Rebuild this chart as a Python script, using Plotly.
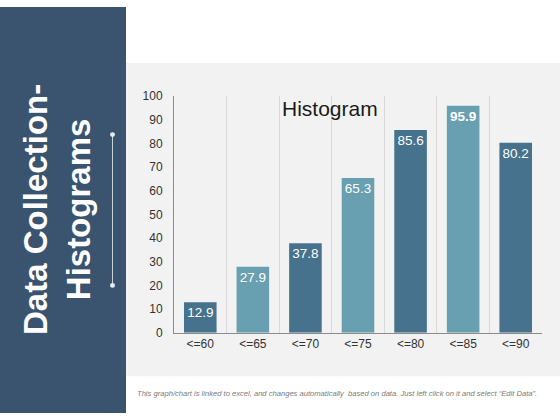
import plotly.graph_objects as go

categories = ["<=60", "<=65", "<=70", "<=75", "<=80", "<=85", "<=90"]
values = [12.9, 27.9, 37.8, 65.3, 85.6, 95.9, 80.2]
bar_colors = ["#46728d", "#68a0b1", "#46728d", "#68a0b1", "#46728d", "#68a0b1", "#46728d"]
highlight_index = 5
y_ticks = list(range(0, 101, 10))

W, H = 560, 420
def px(x):
    return x / W
def py(y):
    return 1 - y / H

labels = [f"<b>{v}</b>" if i == highlight_index else f"{v}" for i, v in enumerate(values)]

fig = go.Figure()
fig.add_trace(go.Bar(
    x=categories, y=values,
    marker=dict(color=bar_colors, line=dict(width=0)),
    text=labels, textposition="inside", insidetextanchor="end",
    textangle=0, constraintext="none", cliponaxis=False,
    textfont=dict(color="white", size=13.5, family="Liberation Sans, Arial, sans-serif"),
    hoverinfo="skip",
))

shapes = [
    dict(type="rect", xref="paper", yref="paper", x0=0, x1=px(126), y0=0, y1=1,
         fillcolor="#3a5470", line=dict(width=0), layer="below"),
    dict(type="rect", xref="paper", yref="paper", x0=px(126), x1=1, y0=py(382), y1=py(58),
         fillcolor="#f2f2f2", line=dict(width=0), layer="below"),
    dict(type="line", xref="paper", yref="paper", x0=px(112.5), x1=px(112.5), y0=py(132), y1=py(288),
         line=dict(color="#c9d1d9", width=1)),
    dict(type="circle", xref="paper", yref="paper", x0=px(110), x1=px(115), y0=py(129.5), y1=py(134.5),
         fillcolor="#e8ecef", line=dict(width=0)),
    dict(type="circle", xref="paper", yref="paper", x0=px(110), x1=px(115), y0=py(285.5), y1=py(290.5),
         fillcolor="#e8ecef", line=dict(width=0)),
]

annotations = [
    dict(text="<b>Data Collection-<br>Histograms</b>", xref="paper", yref="paper",
         x=px(57), y=py(210), textangle=-90, showarrow=False,
         font=dict(color="white", size=33, family="Liberation Sans, Arial, sans-serif"),
         xanchor="center", yanchor="middle"),
    dict(text="Histogram", xref="paper", yref="paper", x=px(330), y=py(105),
         showarrow=False, xanchor="center", yanchor="middle",
         font=dict(color="#1a1a1a", size=21, family="Liberation Sans, Arial, sans-serif")),
    dict(text="<i>This graph/chart is linked to excel, and changes automatically  based on data. Just left click on it and select \u201cEdit Data\u201d.</i>",
         xref="paper", yref="paper", x=px(135), y=py(400), showarrow=False,
         xanchor="left", yanchor="middle",
         font=dict(color="#7a7a7a", size=7.6, family="Liberation Sans, Arial, sans-serif")),
]

fig.update_layout(
    width=W, height=H,
    margin=dict(l=0, r=0, t=0, b=0, pad=0),
    paper_bgcolor="white", plot_bgcolor="rgba(0,0,0,0)",
    showlegend=False, bargap=0.38,
    shapes=shapes, annotations=annotations,
    font=dict(family="Liberation Sans, Arial, sans-serif", color="#333333", size=12),
    xaxis=dict(domain=[px(174), px(542)], range=[-0.5, 6.5], type="category",
               tickson="boundaries", showgrid=True, gridcolor="#d9d9d9", gridwidth=1,
               showline=True, linecolor="#8c8c8c", linewidth=1, ticks="",
               tickfont=dict(size=12, color="#333333"), fixedrange=True),
    yaxis=dict(domain=[py(337), py(92)], range=[0, 100], tickvals=y_ticks,
               showgrid=False, zeroline=False, showline=True, linecolor="#8c8c8c",
               linewidth=1, ticks="", ticklabelstandoff=8,
               tickfont=dict(size=12, color="#333333"), fixedrange=True),
)

post = ("document.documentElement.style.margin='0';document.body.style.margin='0';"
        "document.body.style.padding='0';document.body.style.overflow='hidden';"
        "var d=document.getElementById('{plot_id}');"
        "d.style.position='fixed';d.style.left='0px';d.style.top='0px';")

fig.write_html("out.html", post_script=post, config={"displayModeBar": False})
